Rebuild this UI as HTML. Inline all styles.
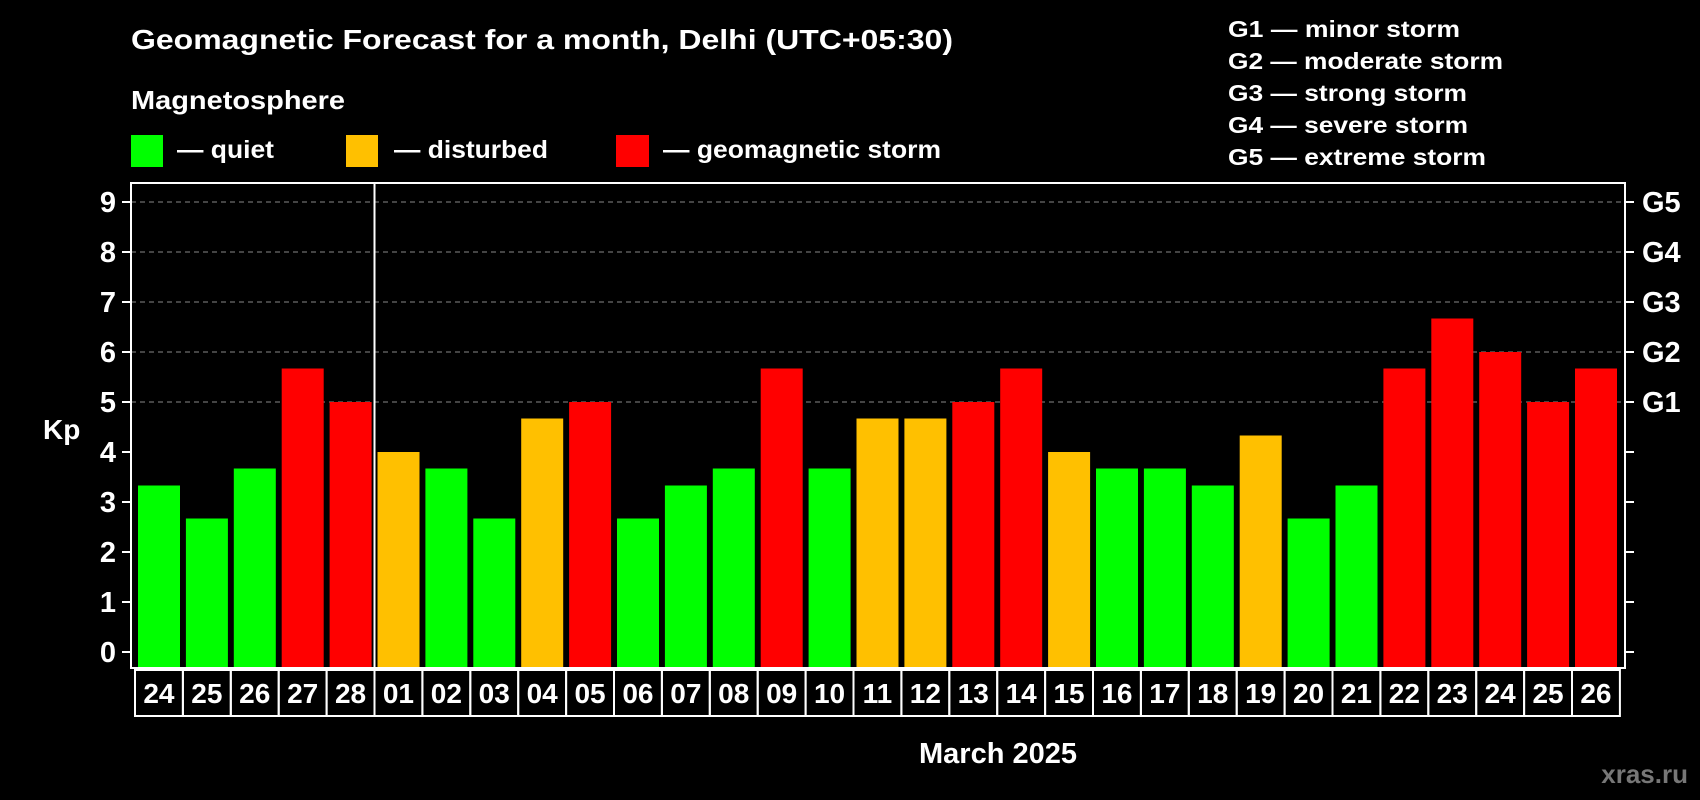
<!DOCTYPE html>
<html><head><meta charset="utf-8"><style>
html,body{margin:0;padding:0;background:#000;}
svg{display:block;font-family:"Liberation Sans",Arial,sans-serif;font-weight:bold;}
</style></head><body>
<svg id="chart" width="1700" height="800" viewBox="0 0 1700 800">
<rect width="1700" height="800" fill="#000"/>
<text x="131" y="49" fill="#fff" font-size="28" textLength="822" lengthAdjust="spacingAndGlyphs">Geomagnetic Forecast for a month, Delhi (UTC+05:30)</text>
<text x="131" y="109" fill="#fff" font-size="26" textLength="214" lengthAdjust="spacingAndGlyphs">Magnetosphere</text>
<g>
<rect x="131" y="135" width="32" height="32" fill="#00ff00"/>
<text x="177" y="158" fill="#fff" font-size="25" textLength="97" lengthAdjust="spacingAndGlyphs">— quiet</text></g>
<g>
<rect x="346" y="135" width="32" height="32" fill="#ffc000"/>
<text x="394" y="158" fill="#fff" font-size="25" textLength="154" lengthAdjust="spacingAndGlyphs">— disturbed</text></g>
<g>
<rect x="616" y="135" width="33" height="32" fill="#ff0000"/>
<text x="663" y="158" fill="#fff" font-size="25" textLength="278" lengthAdjust="spacingAndGlyphs">— geomagnetic storm</text></g>
<g font-size="23" fill="#fff">
<text x="1228" y="37" textLength="232" lengthAdjust="spacingAndGlyphs">G1 — minor storm</text>
<text x="1228" y="69" textLength="275" lengthAdjust="spacingAndGlyphs">G2 — moderate storm</text>
<text x="1228" y="101" textLength="239" lengthAdjust="spacingAndGlyphs">G3 — strong storm</text>
<text x="1228" y="133" textLength="240" lengthAdjust="spacingAndGlyphs">G4 — severe storm</text>
<text x="1228" y="165" textLength="258" lengthAdjust="spacingAndGlyphs">G5 — extreme storm</text>
</g>
<text x="43" y="439" fill="#fff" font-size="28">Kp</text>
<text x="998" y="763" fill="#fff" font-size="29" text-anchor="middle">March 2025</text>
<text x="1688" y="783" fill="#777" font-size="26" text-anchor="end">xras.ru</text>
<g id="grid"></g><g id="bars"></g><g id="labels"></g>
<rect x="131" y="183" width="1494" height="485" fill="none" stroke="#fff" stroke-width="2"/>
</svg>
<script>
const days = ["24","25","26","27","28","01","02","03","04","05","06","07","08","09","10","11","12","13","14","15","16","17","18","19","20","21","22","23","24","25","26"];
const kp = [3.33,2.67,3.67,5.67,5,4,3.67,2.67,4.67,5,2.67,3.33,3.67,5.67,3.67,4.67,4.67,5,5.67,4,3.67,3.67,3.33,4.33,2.67,3.33,5.67,6.67,6,5,5.67];
const yTicks = [0,1,2,3,4,5,6,7,8,9];
const gLabels = ["","","","","","G1","G2","G3","G4","G5"];
const NS="http://www.w3.org/2000/svg";
const x0=136, slot=47.9, y0=652, unit=50;
const yS=v=>y0-v*unit;
const xS=i=>x0+i*slot;
const grid=document.getElementById('grid'), bars=document.getElementById('bars'), labels=document.getElementById('labels');
function mk(tag,attrs,parent){const e=document.createElementNS(NS,tag);for(const k in attrs)e.setAttribute(k,attrs[k]);parent.appendChild(e);return e;}
yTicks.forEach((t,i)=>{
  const y=yS(t);
  if(t>=5){const l=mk('line',{x1:131,x2:1625,y1:y,y2:y,stroke:'#888','stroke-dasharray':'5,4','stroke-width':1},grid);
    
    }
  mk('line',{x1:122,x2:131,y1:y,y2:y,stroke:'#fff','stroke-width':2},grid);
  mk('line',{x1:1625,x2:1634,y1:y,y2:y,stroke:'#fff','stroke-width':2},grid);
  const tl=mk('text',{x:116,y:y+10,fill:'#fff','font-size':29,'text-anchor':'end'},labels);
  tl.textContent=t;
  
  
  if(gLabels[i]){const g=mk('text',{x:1642,y:y+10,fill:'#fff','font-size':29},labels);
    g.textContent=gLabels[i];
    
    }
});
kp.forEach((v,i)=>{
  const c=v>=5?'#ff0000':(v>=4?'#ffc000':'#00ff00');
  const r=mk('rect',{x:xS(i)+2,y:yS(v),width:42,height:668-yS(v),fill:c},bars);
  
  
  const b=mk('rect',{x:xS(i)-1,y:670,width:slot,height:46,fill:'none',stroke:'#fff','stroke-width':2},labels);
  
  
  const t=mk('text',{x:xS(i)-1+slot/2,y:703,fill:'#fff','font-size':28,'text-anchor':'middle'},labels);
  t.textContent=days[i];
  
  
});
const sep=mk('line',{x1:xS(5)-1,x2:xS(5)-1,y1:183,y2:716,stroke:'#fff','stroke-width':2},labels);


</script>
</body></html>
